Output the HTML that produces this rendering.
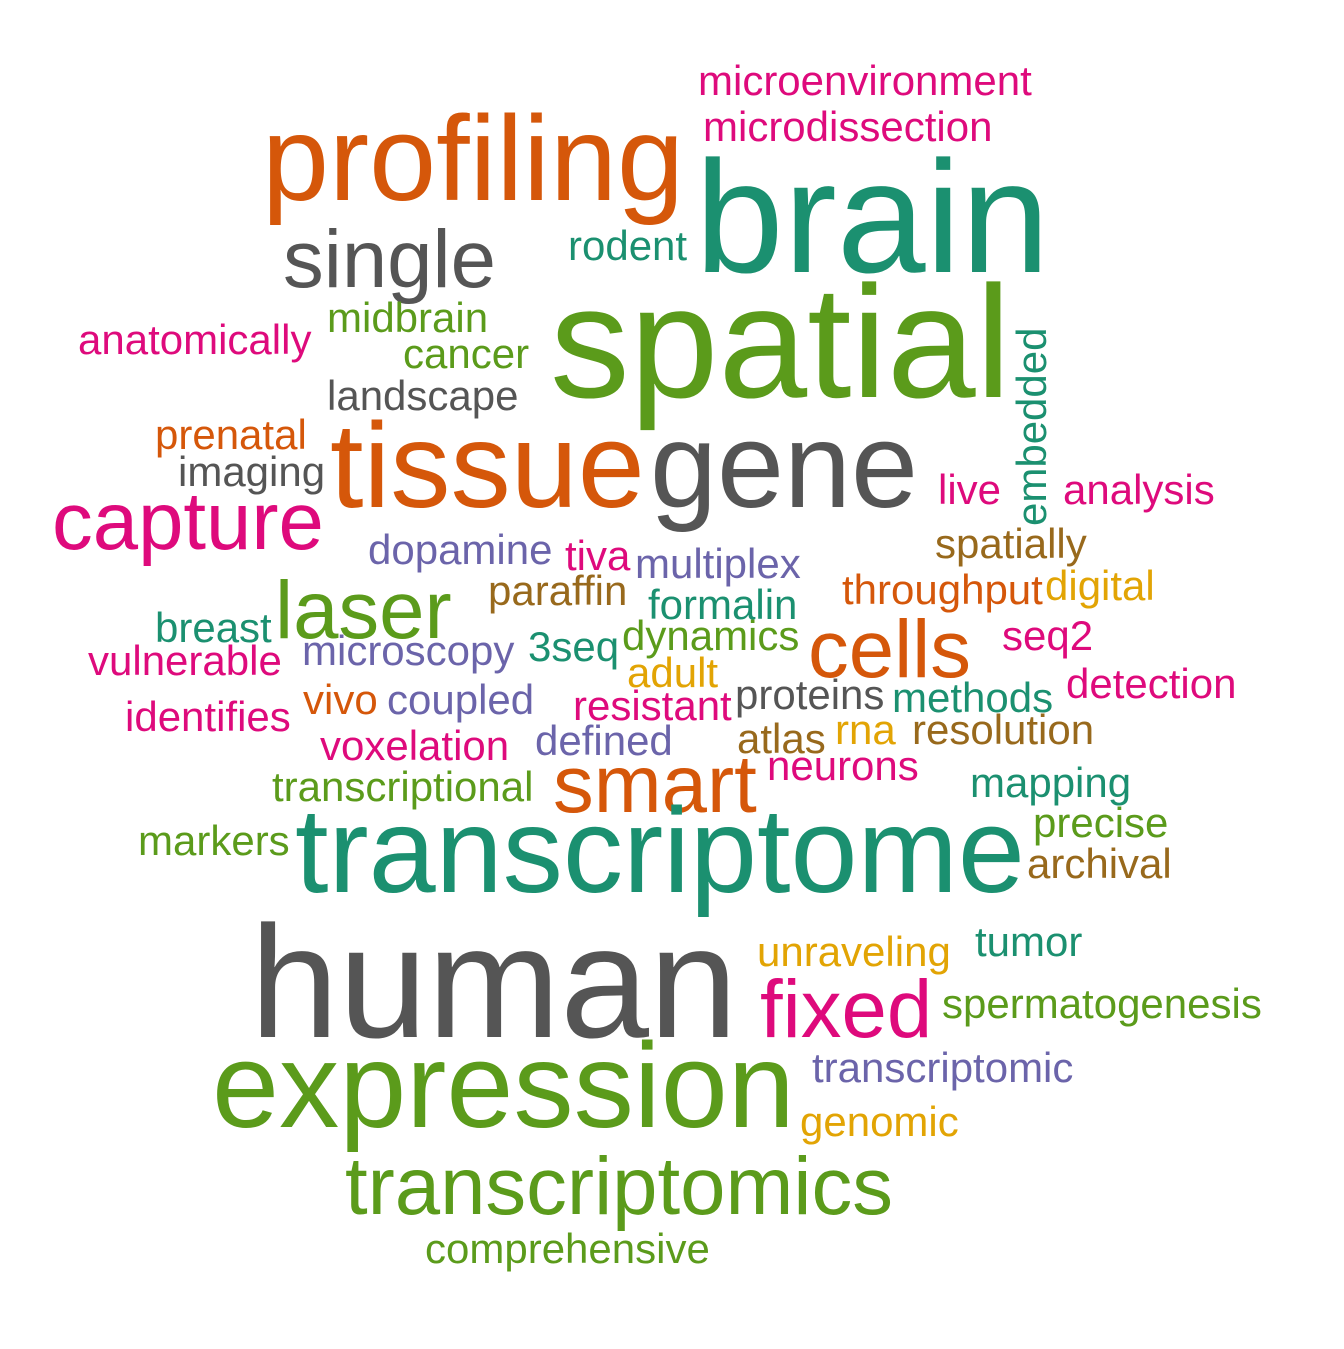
<!DOCTYPE html>
<html><head><meta charset="utf-8"><style>
html,body{margin:0;padding:0;background:#fff;}
svg text{font-family:"Liberation Sans",Arial,sans-serif;}
</style></head><body>
<svg id="cloud" width="1344" height="1344" viewBox="0 0 1344 1344" xmlns="http://www.w3.org/2000/svg">
<rect width="1344" height="1344" fill="#fff"/>
</svg>
<script>
const words = ["microenvironment","microdissection","profiling","brain","rodent","single","spatial","midbrain","anatomically","cancer","landscape","embedded","prenatal","tissue","gene","imaging","live","analysis","capture","dopamine","tiva","multiplex","spatially","paraffin","throughput","digital","formalin","laser","breast","3seq","dynamics","seq2","cells","microscopy","vulnerable","adult","proteins","methods","detection","vivo","coupled","resistant","identifies","rna","resolution","atlas","defined","voxelation","neurons","smart","transcriptional","mapping","precise","markers","transcriptome","archival","tumor","unraveling","human","fixed","spermatogenesis","transcriptomic","expression","genomic","transcriptomics","comprehensive"];
const freq = [1,1,3,4,1,2,4,1,1,1,1,1,1,3,3,1,1,1,2,1,1,1,1,1,1,1,1,2,1,1,1,1,2,1,1,1,1,1,1,1,1,1,1,1,1,1,1,1,1,2,1,1,1,1,3,1,1,1,4,2,1,1,3,1,2,1];
const colorIdx = [3,3,1,0,0,7,4,4,3,4,7,0,1,1,7,7,3,3,3,2,3,2,6,6,1,5,0,4,0,0,4,3,1,2,3,5,7,0,3,1,2,3,3,5,6,6,2,3,3,1,4,0,4,4,0,6,0,5,7,3,4,2,4,5,4,4];
const xs = [698,703,262,695,568,283,550,327,78,403,327,1046,155,330,650,178,938,1063,52,368,565,635,935,488,842,1045,648,275,155,528,622,1002,808,302,88,627,735,892,1066,303,387,573,125,835,912,737,535,320,767,553,272,970,1033,138,295,1027,975,757,250,760,942,812,212,800,345,425];
const ys = [95,141,200,272,260,287,397,332,354,368,410,526,449,507,507,486,504,504,549,564,570,578,558,605,604,600,619,638,642,661,650,650,677,665,675,687,709,712,698,714,714,720,731,744,744,753,755,760,780,812,801,797,837,855,892,878,956,966,1037,1037,1018,1082,1127,1136,1214,1263];
const rotated = [0,0,0,0,0,0,0,0,0,0,0,1,0,0,0,0,0,0,0,0,0,0,0,0,0,0,0,0,0,0,0,0,0,0,0,0,0,0,0,0,0,0,0,0,0,0,0,0,0,0,0,0,0,0,0,0,0,0,0,0,0,0,0,0,0,0];
const palette = ["#1B9070","#D5570A","#6B64AA","#DE0A7C","#5B9B1B","#E2A404","#98691C","#555555"];
const sizeScale = f => [0,42,81.5,120.5,159.5][f];
const svg = document.getElementById('cloud');
words.forEach((w,i)=>{
  const t = document.createElementNS('http://www.w3.org/2000/svg','text');
  
  
  t.setAttribute('x', xs[i]);
  t.setAttribute('y', ys[i]);
  t.setAttribute('font-size', sizeScale(freq[i]));
  t.setAttribute('fill', palette[colorIdx[i]]);
  if (rotated[i]) t.setAttribute('transform', 'rotate(-90 ' + xs[i] + ' ' + ys[i] + ')');
  t.textContent = w;
  svg.appendChild(t);
});
</script>
</body></html>
